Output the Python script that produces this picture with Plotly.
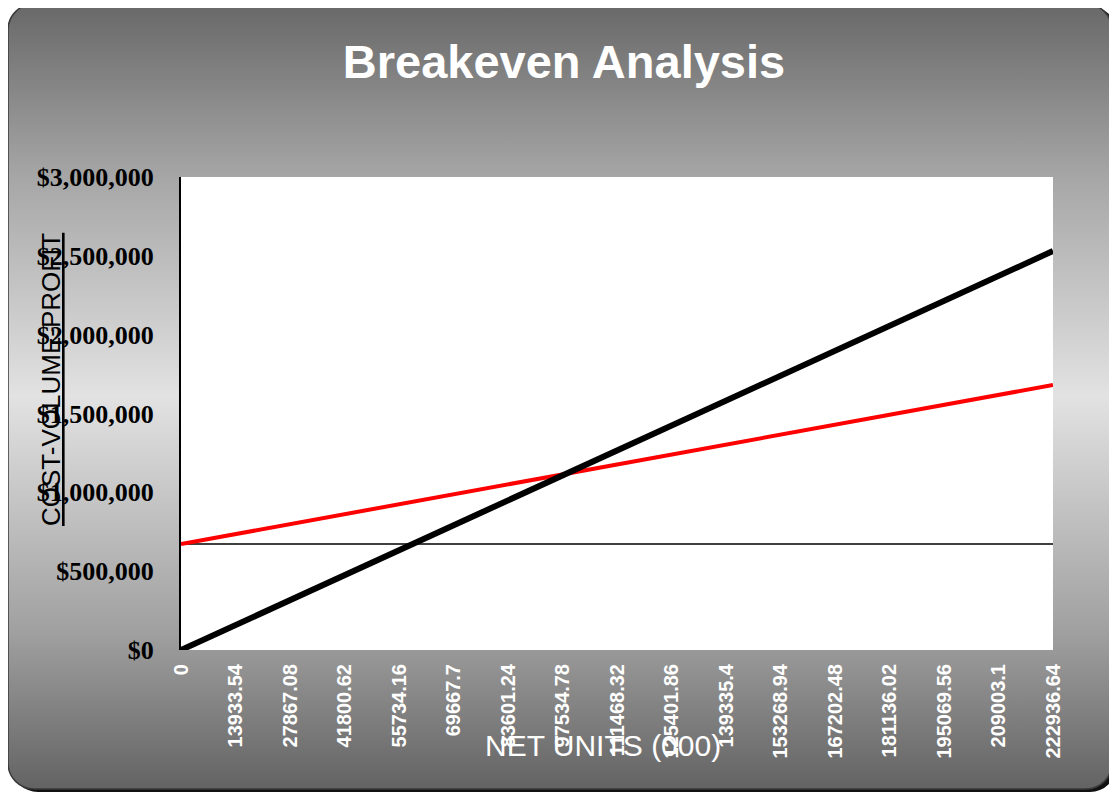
import base64
import plotly.graph_objects as go

# ---- data ----
net_units = ["0", "13933.54", "27867.08", "41800.62", "55734.16", "69667.7",
             "83601.24", "97534.78", "111468.32", "125401.86", "139335.4",
             "153268.94", "167202.48", "181136.02", "195069.56", "209003.1",
             "222936.64"]
fixed_cost = [672000] * 17
total_cost = [672000, 735060, 798120, 861180, 924240, 987300, 1050360, 1113420,
              1176480, 1239540, 1302600, 1365660, 1428720, 1491780, 1554840,
              1617900, 1680960]
revenue = [0, 158150, 316300, 474450, 632600, 790750, 948900, 1107050,
           1265200, 1423350, 1581500, 1739650, 1897800, 2055950, 2214100,
           2372250, 2530400]

OFF = 8  # page body margin
W, H = 1117 - OFF, 793 - OFF
# plot area in screen pixels: x 181..1053, y 177..650
PX0, PX1, PY0, PY1 = 181 - OFF, 1053 - OFF, 177 - OFF, 650 - OFF
L, R, T, B = PX0, W - PX1, PY0, H - PY1
PW, PH = PX1 - PX0, PY1 - PY0


def px(sx):
    return (sx - OFF - PX0) / PW


def py(sy):
    return (PY1 - (sy - OFF)) / PH


svg = f'''<svg xmlns="http://www.w3.org/2000/svg" width="{W}" height="{H}" viewBox="0 0 {W} {H}" preserveAspectRatio="none">
<defs><linearGradient id="g" x1="0" y1="0" x2="0" y2="1">
<stop offset="0" stop-color="#686868"/>
<stop offset="0.22" stop-color="#a6a6a6"/>
<stop offset="0.5" stop-color="#e2e2e2"/>
<stop offset="0.8" stop-color="#a0a0a0"/>
<stop offset="1" stop-color="#636363"/>
</linearGradient></defs>
<rect x="0" y="0" width="{W}" height="{H}" fill="#ffffff"/>
<rect x="4" y="-2" width="1104" height="786" rx="26" ry="26" fill="#111111"/>
<rect x="0" y="-4" width="1104" height="785" rx="26" ry="26" fill="url(#g)" stroke="#3a3a3a" stroke-width="1.5"/>
<rect x="{PX0}" y="{PY0}" width="{PW}" height="{PH}" fill="#ffffff"/>
</svg>'''
src = "data:image/svg+xml;base64," + base64.b64encode(svg.encode()).decode()

fig = go.Figure()
fig.add_trace(go.Scatter(x=net_units, y=fixed_cost, mode="lines",
                         line=dict(color="black", width=1.6), name="Fixed Cost"))
fig.add_trace(go.Scatter(x=net_units, y=total_cost, mode="lines",
                         line=dict(color="#ff0000", width=4), name="Total Cost"))
fig.add_trace(go.Scatter(x=net_units, y=revenue, mode="lines",
                         line=dict(color="black", width=6), name="Revenue"))

fig.update_layout(
    width=W, height=H,
    margin=dict(l=L, r=R, t=T, b=B, autoexpand=False),
    paper_bgcolor="white",
    plot_bgcolor="rgba(0,0,0,0)",
    showlegend=False,
    images=[dict(source=src, xref="paper", yref="paper",
                 x=-L / PW, y=1 + T / PH, sizex=W / PW, sizey=H / PH,
                 xanchor="left", yanchor="top", sizing="stretch",
                 layer="below")],
    title=dict(text="<b>Breakeven Analysis</b>", x=(564 - OFF) / W,
               xanchor="center", y=1 - (62 - OFF) / H, yanchor="middle",
               font=dict(family="Liberation Sans, Arial", size=47, color="white")),
    xaxis=dict(type="category", range=[0, 16], showgrid=False, zeroline=False,
               showline=False, ticks="", tickangle=-90, ticklabelstandoff=9,
               tickfont=dict(family="Liberation Sans, Arial", size=20,
                             color="white", weight="bold")),
    yaxis=dict(range=[0, 3000000], dtick=500000, tickformat="$,.0f",
               showgrid=False, zeroline=False, showline=True,
               linecolor="black", linewidth=2, ticks="", ticklabelstandoff=20,
               tickfont=dict(family="Liberation Serif, Times New Roman",
                             size=26, color="black", weight="bold")),
    annotations=[
        dict(text="NET UNITS (000)", xref="paper", yref="paper",
             x=px(603), y=py(745),
             xanchor="center", yanchor="middle", showarrow=False,
             font=dict(family="Liberation Sans, Arial", size=30, color="white")),
        dict(text="COST-VOLUME-PROFIT", xref="paper", yref="paper",
             x=px(51), y=py(380),
             xanchor="center", yanchor="middle", showarrow=False, textangle=-90,
             font=dict(family="Liberation Sans, Arial", size=26, color="black",
                       lineposition="under")),
    ],
    hovermode=False,
)

fig.write_html("out.html")
